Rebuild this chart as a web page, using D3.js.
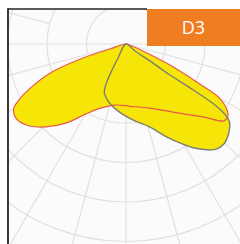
<!DOCTYPE html>
<html>
<head>
<meta charset="utf-8">
<script src="https://cdn.jsdelivr.net/npm/d3@7"></script>
<style>
html,body{margin:0;padding:0;background:#fff;}
svg{display:block;}
</style>
</head>
<body>
<svg id="chart" width="240" height="244"></svg>
<script>
// ---- data (polar: angle in degrees from nadir, + to the right; intensity in cd/klm) ----
const ringValues = [100, 200, 300, 400, 500, 600, 700];
const spokeStep = 15;
const label = "D3";

const redAngles = [-72, -72.6, -72.0, -69.1, -65.4, -62.6, -59.9, -55.6, -50.9, -44.0, -37.3, -30.0, -21.8, -10.1, 3.6, 20.3, 37.6, 46.9, 51.8, 54.3, 57.1, 60.1, 61.6, 64.5, 67.2, 71.6];
const redValues = [0, 42, 113, 203, 264, 304, 329, 336, 325, 292, 252, 205, 175, 157, 158, 173, 221, 271, 315, 317, 304, 271, 210, 122, 52, 16];

const grayAngles = [0, -29.7, -28.3, -26.6, -24.2, -17.2, -6.7, 6.6, 15.9, 22.8, 29.4, 34.2, 39.8, 44.4, 48.8, 53.0, 54.5, 55.6, 55.7, 54.8, 54.7, 52.1];
const grayValues = [0, 40, 74, 112, 134, 152, 171, 196, 218, 252, 290, 320, 348, 354, 345, 328, 310, 270, 209, 135, 74, 29];

// ---- layout ----
const W = 240, H = 244;
const cx = 126, cy = 44;
const frame = {x: 8, y: 9};
const box = {x: 147, y: 9, w: 93, h: 37};

const svg = d3.select("#chart");
const r = d3.scaleLinear().domain([0, 100]).range([0, 39.5]);
const toRad = d => (180 - d) * Math.PI / 180;

svg.append("rect").attr("width", W).attr("height", H).attr("fill", "#ffffff");

svg.append("clipPath").attr("id", "clip")
  .append("rect").attr("x", frame.x).attr("y", frame.y).attr("width", W - frame.x).attr("height", H - frame.y);

const plot = svg.append("g").attr("clip-path", "url(#clip)");
plot.append("rect").attr("x", frame.x).attr("y", frame.y).attr("width", W - frame.x).attr("height", H - frame.y).attr("fill", "#fbfbfb");

const g = plot.append("g").attr("transform", `translate(${cx},${cy})`);

// grid
g.selectAll("circle.ring").data(ringValues).join("circle")
  .attr("class", "ring").attr("r", d => r(d))
  .attr("fill", "none").attr("stroke", "#e4dfdf").attr("stroke-width", 1.2);

// spokes: lower half from the centre, upper half from the second ring outward
const spokes = d3.range(-180 + spokeStep, 180 + 0.001, spokeStep);
g.selectAll("line.spoke").data(spokes).join("line")
  .attr("class", "spoke")
  .attr("x1", d => Math.abs(d) <= 90 ? 0 : Math.sin(d * Math.PI / 180) * r(200))
  .attr("y1", d => Math.abs(d) <= 90 ? 0 : Math.cos(d * Math.PI / 180) * r(200))
  .attr("x2", d => Math.sin(d * Math.PI / 180) * r(800))
  .attr("y2", d => Math.cos(d * Math.PI / 180) * r(800))
  .attr("stroke", "#e4dfdf").attr("stroke-width", 1.2);

// curves
const line = d3.lineRadial()
  .angle(d => toRad(d[0]))
  .radius(d => r(d[1]))
  .curve(d3.curveCatmullRomClosed.alpha(0.5));

const redPts = redAngles.map((a, i) => [a, redValues[i]]);
const grayPts = grayAngles.map((a, i) => [a, grayValues[i]]);

g.append("path").attr("d", line(redPts)).attr("fill", "#f6e608").attr("stroke", "none");
g.append("path").attr("d", line(grayPts)).attr("fill", "#f6e608").attr("stroke", "none");
g.append("path").attr("d", line(redPts)).attr("fill", "none").attr("stroke", "#e8584a").attr("stroke-width", 1.2);
g.append("path").attr("d", line(grayPts)).attr("fill", "none").attr("stroke", "#7d7d72").attr("stroke-width", 1.4);

// frame
svg.append("line").attr("x1", frame.x).attr("y1", frame.y).attr("x2", box.x).attr("y2", frame.y)
  .attr("stroke", "#2a2321").attr("stroke-width", 1.6);
svg.append("line").attr("x1", frame.x).attr("y1", frame.y - 0.8).attr("x2", frame.x).attr("y2", H)
  .attr("stroke", "#2a2321").attr("stroke-width", 1.8);

// label box
svg.append("rect").attr("x", box.x).attr("y", box.y).attr("width", box.w).attr("height", box.h).attr("fill", "#ef7d22");
svg.append("text").attr("x", box.x + box.w / 2).attr("y", box.y + 25)
  .attr("text-anchor", "middle").attr("fill", "#ffffff")
  .attr("font-family", "'Open Sans', 'Liberation Sans', sans-serif").attr("font-size", 18)
  .text(label);
</script>
</body>
</html>
